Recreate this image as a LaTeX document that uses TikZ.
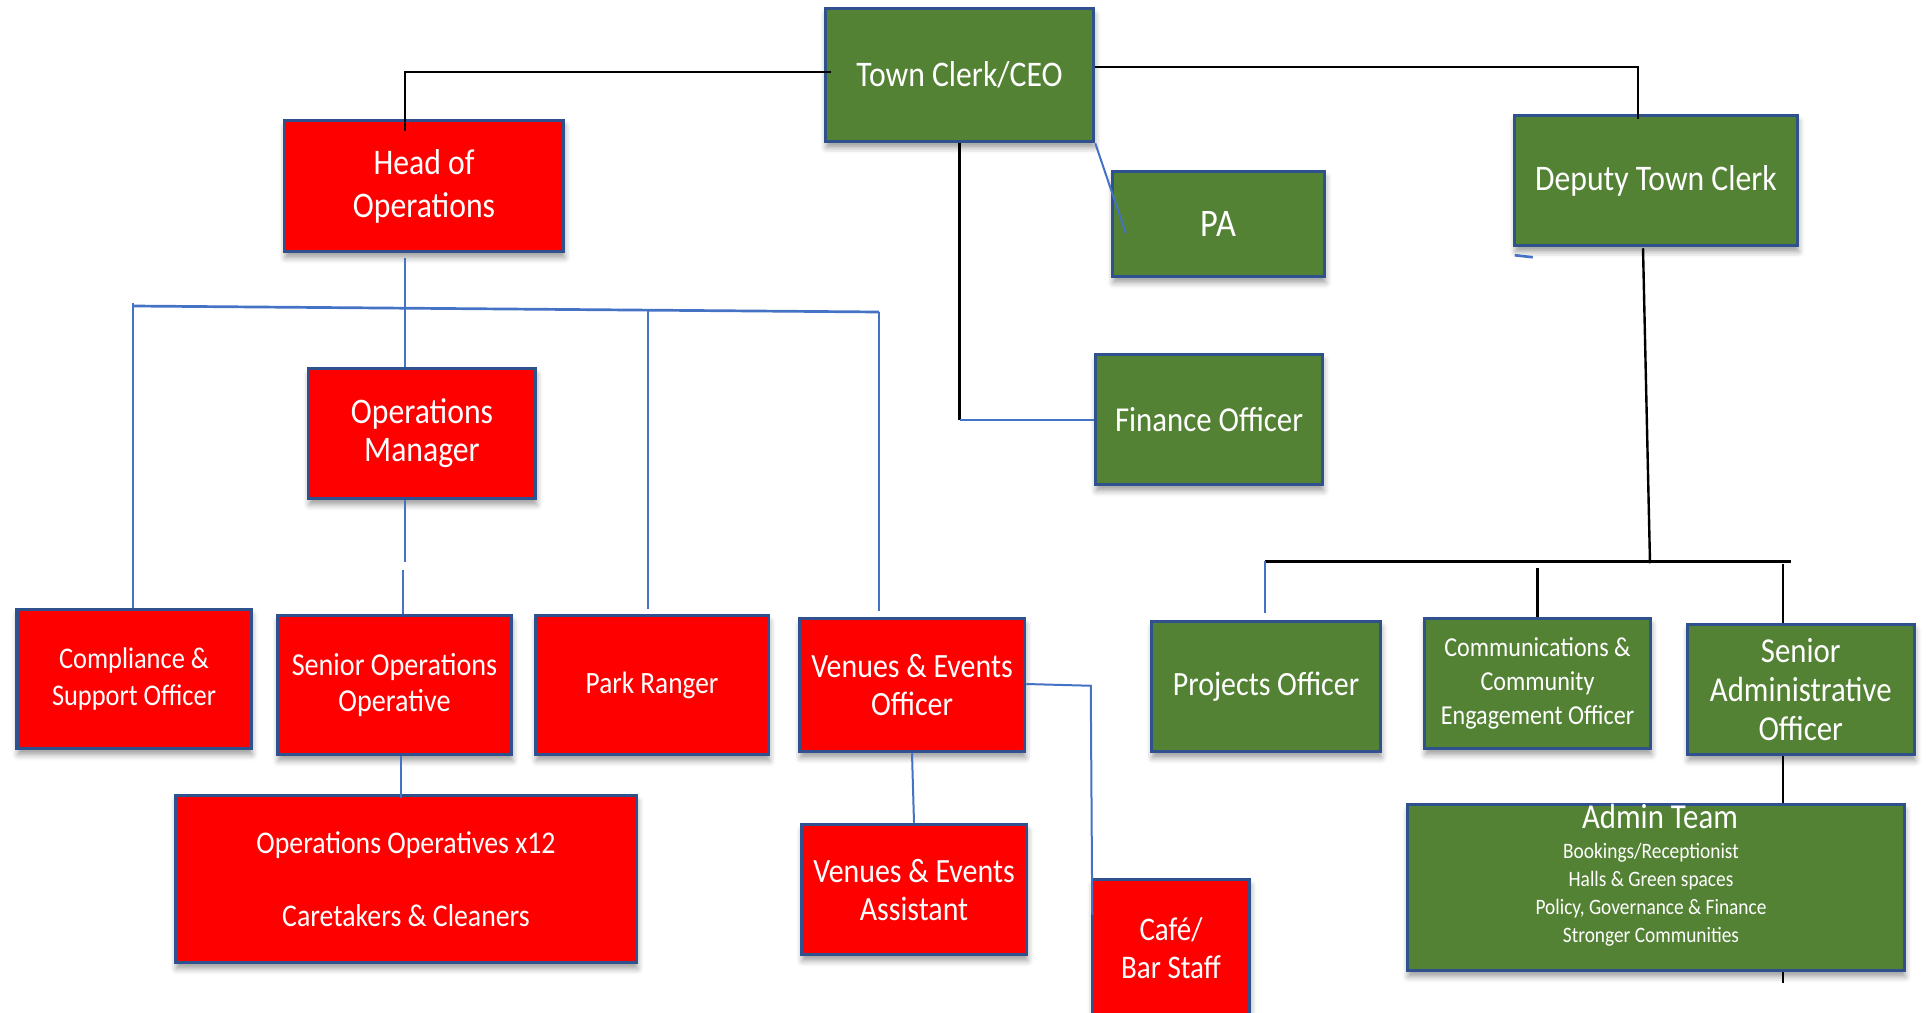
\documentclass[tikz,border=0pt]{standalone}
\usepackage{fontspec}
\setmainfont{Carlito}[FakeStretch=0.88]
\usepackage{tikz}
\usetikzlibrary{calc,shadows.blur}
\definecolor{opsred}{HTML}{FF0000}
\definecolor{clerkgreen}{HTML}{548235}
\definecolor{edgeblue}{HTML}{2F528F}
\definecolor{linkblue}{HTML}{4472C4}
\tikzstyle{block} = [draw=edgeblue, line width=1.75pt, rectangle, align=center, text=white, inner sep=0pt, blur shadow={shadow xshift=0.5pt, shadow yshift=-3pt, shadow blur radius=3pt, shadow opacity=40}]
\tikzstyle{redblock} = [block, fill=opsred]
\tikzstyle{greenblock} = [block, fill=clerkgreen]
\tikzstyle{boxtext} = [text=white, inner sep=0pt, align=center]
\tikzstyle{blueline} = [draw=linkblue, line width=1pt]
\tikzstyle{busline} = [draw=linkblue, line width=1.35pt]
\tikzstyle{blackline} = [draw=black, line width=1.2pt]
\tikzset{dims/.style 2 args={minimum width=#1*0.5pt, minimum height=#2*0.5pt},
  fsize/.style 2 args={font=\fontsize{#1}{#2}\selectfont}}

\begin{document}
\begin{tikzpicture}[x=0.5pt, y=-0.5pt]
    \useasboundingbox (0,0) rectangle (1926,1012);
    % Clerk and direct reports
    \node [greenblock, dims={268}{133}, fsize={18}{21.5}] (clerk) at (959.5,75) {Town Clerk/CEO};
    \node [greenblock, dims={212}{105}, fsize={19.5}{22}] (pa) at (1218.5,224) {PA};
    \node [greenblock, dims={227}{130}, fsize={17.5}{20}] (finance) at (1209,419.5) {Finance Officer};
    \node [greenblock, dims={283}{130}, fsize={18}{21.5}] (deputy) at (1656,180.5) {Deputy Town Clerk};
    % Operations side
    \node [redblock, dims={279}{131}, fsize={18}{21.5}] (head) at (424,186) {Head of\\Operations};
    \node [redblock, dims={227}{130}, fsize={18}{19}] (opsman) at (422,433.5) {Operations\\Manager};
    \node [redblock, dims={234}{139}, fsize={15}{18.3}] (comply) at (134,679) {Compliance \&\\Support Officer};
    \node [redblock, dims={234}{139}, fsize={16}{18.3}] (senior) at (394.5,685) {Senior Operations\\Operative};
    \node [redblock, dims={233}{139}, fsize={15.5}{18}] (ranger) at (652,685) {Park Ranger};
    \node [redblock, dims={225}{133}, fsize={17}{19}] (venues) at (912,685) {Venues \& Events\\Officer};
    \node [redblock, dims={461}{167}, fsize={15.8}{18.25}] (operatives) at (406,879) {Operations Operatives x12\\[18.25pt]Caretakers \& Cleaners};
    \node [redblock, dims={225}{130}, fsize={17}{19}] (assistant) at (914,889.5) {Venues \& Events\\Assistant};
    \node [redblock, dims={157}{137}, fsize={16.5}{19}] (cafe) at (1171,948) {Café/\\Bar Staff};
    % Deputy side
    \node [greenblock, dims={229}{130}, fsize={17}{20}] (projects) at (1266,686.5) {Projects Officer};
    \node [greenblock, dims={226}{130}, fsize={13.7}{17}] (comms) at (1537.5,683.5) {Communications \&\\Community\\Engagement Officer};
    \node [greenblock, dims={227}{130}, fsize={17.5}{19.5}] (sradmin) at (1800.75,689.5) {Senior\\Administrative\\Officer};
    \node [greenblock, dims={497}{166}] (admin) at (1655.75,887.5) {};
    \node [boxtext, anchor=base, fsize={17.5}{20}] (admintitle) at (1660,828) {Admin Team};
    \node [boxtext, anchor=north, fsize={11}{14}] (adminlist) at (1651,843) {Bookings/Receptionist\\Halls \& Green spaces\\Policy, Governance \& Finance\\Stronger Communities};

    % Connections from the clerk
    \draw [blackline] ($(clerk.west)+(7,-3)$) -| ($(head.north)+(-19,12)$);
    \draw [blackline] ($(clerk.east)+(0,-8)$) -| ($(deputy.north)+(-18,5)$);
    \draw [blueline] (clerk.south east) -- ($(pa.west)+(15,9)$);
    \draw [blackline] (clerk.south) -- (clerk.south |- finance.west);
    \draw [blueline] (clerk.south |- finance.west) -- (finance.west);
    \draw [blueline, line width=1.3pt] ($(deputy.south west)+(2,8)$) -- ++(18,2);

    % Operations tree
    \coordinate (busleft) at (133,306);
    \coordinate (busright) at (879,312);
    \draw [busline] (busleft) -- (busright);
    \draw [blueline] ($(head.south)+(-19,5)$) -- ($(opsman.north)+(-17,0)$);
    \draw [blueline] ($(busleft)+(0,-3)$) -- (busleft |- comply.north);
    \draw [blueline] ($(ranger.north)+(-4,-304)$) -- ($(ranger.north)+(-4,-5)$);
    \draw [blueline] (busright) -- ($(busright |- venues.north)+(0,-6)$);
    \draw [blueline] ($(opsman.south)+(-17,0)$) -- ++(0,62);
    \draw [blueline] ($(senior.north)+(8.5,-44)$) -- ($(senior.north)+(8.5,0)$);
    \draw [blueline] ($(senior.south)+(6,0)$) -- ($(operatives.north)+(-5.5,4)$);
    \draw [blueline] (venues.south) -- (assistant.north);
    \draw [blueline] ($(venues.east)+(0,-1)$) -- ($(cafe.north west)+(0,-192)$) -- ($(cafe.north west)+(1.5,37)$);

    % Deputy tree
    \coordinate (devleft) at (1265,561);
    \coordinate (devright) at (1791,561);
    \coordinate (admintail) at (1783,983);
    \draw [blackline] ($(deputy.south)+(-13,1)$) -- ($(deputy.south)+(-6,316)$);
    \draw [blackline, line width=1.5pt] (devleft) -- (devright);
    \draw [blueline] (devleft) -- ($(projects.north)+(-1,-7)$);
    \draw [blackline] ($(comms.north)+(0,-49)$) -- (comms.north);
    \draw [blackline] ($(sradmin.north)+(-18,-59)$) -- ($(sradmin.north)+(-18,0)$);
    \draw [blackline] ($(sradmin.south)+(-18,0)$) -- ($(sradmin.south)+(-18,47)$);
    \draw [blackline] (admin.south -| admintail) -- (admintail);
\end{tikzpicture}
\end{document}
